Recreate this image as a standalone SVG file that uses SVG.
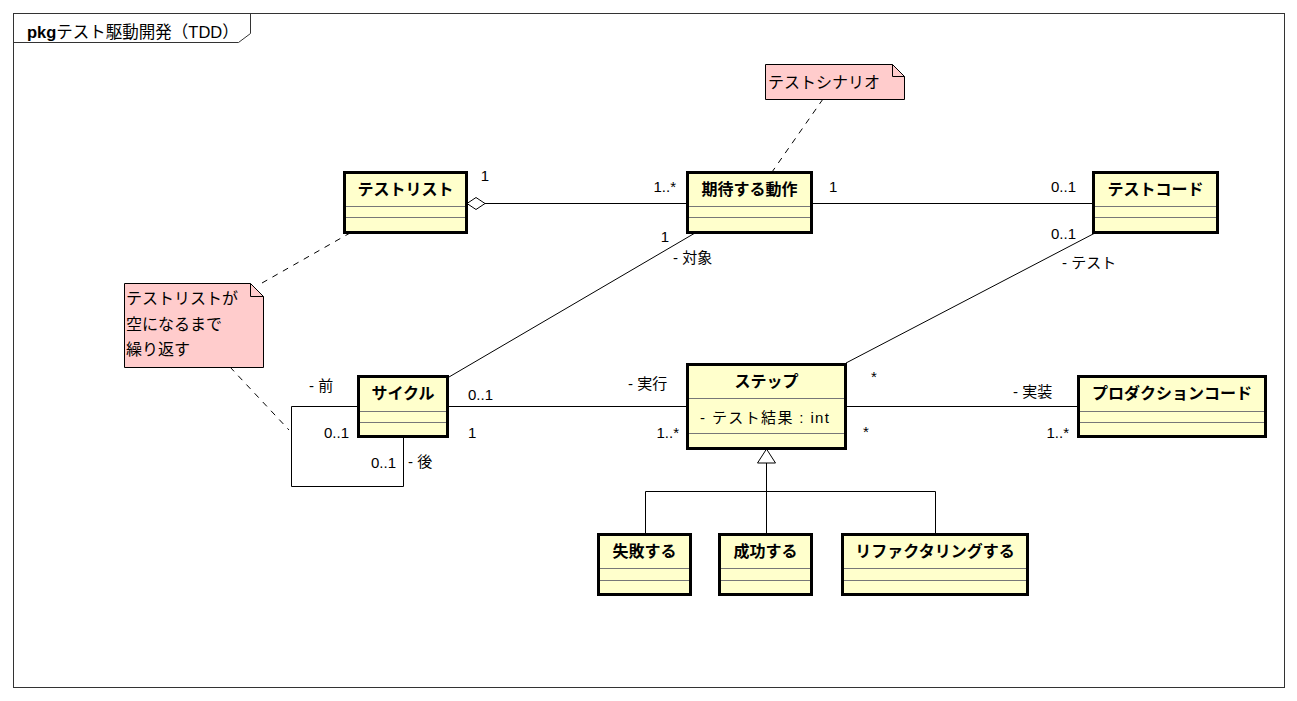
<svg xmlns="http://www.w3.org/2000/svg" width="1297" height="701" viewBox="0 0 1297 701">
<style>
text{font-family:"Liberation Sans","Noto Sans CJK JP",sans-serif;fill:#000}
.cls{fill:#FFFFCC;stroke:#000;stroke-width:3}
.cmp{stroke:#777;stroke-width:1}
.name{font-size:16px;font-weight:bold;text-anchor:middle}
.lbl{font-size:15px}
.end{text-anchor:end}
.mid{text-anchor:middle}
.note{fill:#FFCCCC;stroke:#000;stroke-width:1}
.ntxt{font-size:16px}
.ln{fill:none;stroke:#000;stroke-width:1}
.dash{fill:none;stroke:#000;stroke-width:1;stroke-dasharray:6,6}
</style>
<rect x="0" y="0" width="1297" height="701" fill="#fff"/>
<g id="frame">
<rect x="13.5" y="13.5" width="1271" height="674" fill="none" stroke="#333" stroke-width="1"/>
<path d="M13.5,42.5 H238.5 L250.5,33.5 V13.5" fill="none" stroke="#333" stroke-width="1"/>
<text x="27" y="38" style="font-size:16.5px"><tspan font-weight="bold">pkg</tspan>テスト駆動開発（TDD）</text>
</g>
<g id="connectors">
<path class="ln" d="M485,203.5 H687"/>
<polygon points="467,203.5 476,197.5 485,203.5 476,209.5" fill="#fff" stroke="#000" stroke-width="1"/>
<path class="ln" d="M812,203.5 H1093"/>
<path class="ln" d="M695,233 L449,377"/>
<path class="ln" d="M1095,233 L846,363"/>
<path class="ln" d="M448,406.5 H687"/>
<path class="ln" d="M846,406.5 H1078"/>
<path class="ln" d="M358,406.5 H291.5 V486.5 H403.5 V437"/>
<path class="ln" d="M766.5,463 V534"/>
<path class="ln" d="M645.5,534 V491.5 H935.5 V534"/>
<polygon points="766.5,449 757.5,463 775.5,463" fill="#fff" stroke="#000" stroke-width="1"/>
<path class="dash" d="M823,99 L772,172"/>
<path class="dash" d="M262,283 L350,233"/>
<path class="dash" d="M230,367 L289,430"/>
<text class="lbl mid" x="485" y="181">1</text>
<text class="lbl end" x="676" y="192">1..*</text>
<text class="lbl" x="829" y="192">1</text>
<text class="lbl end" x="1076" y="192">0..1</text>
<text class="lbl mid" x="665" y="242">1</text>
<text class="lbl" x="673" y="263">- 対象</text>
<text class="lbl end" x="1076" y="239">0..1</text>
<text class="lbl" x="1062" y="268">- テスト</text>
<text class="lbl" x="628" y="389">- 実行</text>
<text class="lbl" x="468" y="400">0..1</text>
<text class="lbl" x="468" y="438">1</text>
<text class="lbl end" x="679" y="438">1..*</text>
<text class="lbl" x="871" y="382">*</text>
<text class="lbl" x="863" y="437">*</text>
<text class="lbl" x="1013" y="397">- 実装</text>
<text class="lbl end" x="1069" y="438">1..*</text>
<text class="lbl" x="309" y="391">- 前</text>
<text class="lbl end" x="349" y="438">0..1</text>
<text class="lbl end" x="396" y="468">0..1</text>
<text class="lbl" x="408" y="467">- 後</text>
</g>
<g id="note-scenario">
<polygon class="note" points="765.5,64.5 892.5,64.5 904.5,76.5 904.5,99.5 765.5,99.5"/>
<path class="ln" d="M892.5,64.5 V76.5 H904.5"/>
<text class="ntxt" x="768" y="88">テストシナリオ</text>
</g>
<g id="note-repeat">
<polygon class="note" points="124.5,283.5 250.5,283.5 263.5,296.5 263.5,367.5 124.5,367.5"/>
<path class="ln" d="M250.5,283.5 V296.5 H263.5"/>
<text class="ntxt" x="126" y="304">テストリストが</text>
<text class="ntxt" x="126" y="330">空になるまで</text>
<text class="ntxt" x="126" y="355">繰り返す</text>
</g>
<g id="class-testlist">
<rect class="cls" x="344.5" y="172.5" width="122" height="60"/>
<line class="cmp" x1="346" y1="206.5" x2="465" y2="206.5"/>
<line class="cmp" x1="346" y1="217.5" x2="465" y2="217.5"/>
<text class="name" x="405.5" y="195">テストリスト</text>
</g>
<g id="class-behavior">
<rect class="cls" x="687.5" y="172.5" width="124" height="60"/>
<line class="cmp" x1="689" y1="206.5" x2="810" y2="206.5"/>
<line class="cmp" x1="689" y1="217.5" x2="810" y2="217.5"/>
<text class="name" x="749.5" y="195">期待する動作</text>
</g>
<g id="class-testcode">
<rect class="cls" x="1093.5" y="172.5" width="124" height="60"/>
<line class="cmp" x1="1095" y1="206.5" x2="1216" y2="206.5"/>
<line class="cmp" x1="1095" y1="217.5" x2="1216" y2="217.5"/>
<text class="name" x="1155.5" y="195">テストコード</text>
</g>
<g id="class-cycle">
<rect class="cls" x="358.5" y="376.5" width="89" height="60"/>
<line class="cmp" x1="360" y1="411.5" x2="446" y2="411.5"/>
<line class="cmp" x1="360" y1="422.5" x2="446" y2="422.5"/>
<text class="name" x="403" y="399">サイクル</text>
</g>
<g id="class-step">
<rect class="cls" x="687.5" y="364.5" width="158" height="84"/>
<line class="cmp" x1="689" y1="398.5" x2="844" y2="398.5"/>
<line class="cmp" x1="689" y1="433.5" x2="844" y2="433.5"/>
<text class="name" x="766.5" y="387">ステップ</text>
<text class="lbl" x="700" y="423" textLength="129" lengthAdjust="spacing">- テスト結果 : int</text>
</g>
<g id="class-production">
<rect class="cls" x="1078.5" y="376.5" width="187" height="60"/>
<line class="cmp" x1="1080" y1="411.5" x2="1264" y2="411.5"/>
<line class="cmp" x1="1080" y1="422.5" x2="1264" y2="422.5"/>
<text class="name" x="1172" y="399">プロダクションコード</text>
</g>
<g id="class-fail">
<rect class="cls" x="598.5" y="534.5" width="92" height="60"/>
<line class="cmp" x1="600" y1="568.5" x2="689" y2="568.5"/>
<line class="cmp" x1="600" y1="580.5" x2="689" y2="580.5"/>
<text class="name" x="644.5" y="557">失敗する</text>
</g>
<g id="class-success">
<rect class="cls" x="719.5" y="534.5" width="92" height="60"/>
<line class="cmp" x1="721" y1="568.5" x2="810" y2="568.5"/>
<line class="cmp" x1="721" y1="580.5" x2="810" y2="580.5"/>
<text class="name" x="765.5" y="557">成功する</text>
</g>
<g id="class-refactor">
<rect class="cls" x="842.5" y="534.5" width="185" height="60"/>
<line class="cmp" x1="844" y1="568.5" x2="1026" y2="568.5"/>
<line class="cmp" x1="844" y1="580.5" x2="1026" y2="580.5"/>
<text class="name" x="935" y="557">リファクタリングする</text>
</g>
</svg>
